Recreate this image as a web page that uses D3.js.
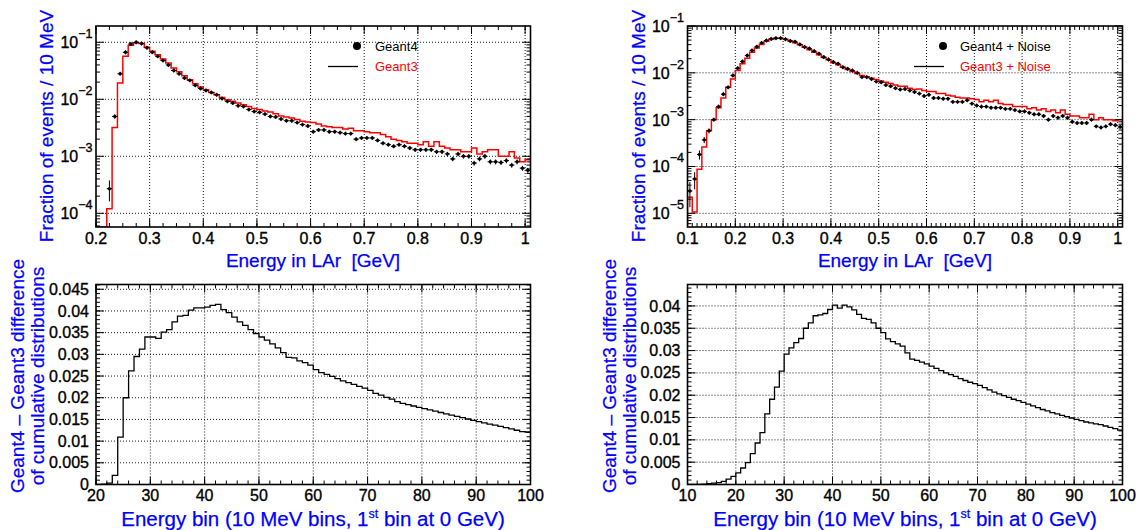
<!DOCTYPE html>
<html><head><meta charset="utf-8">
<script src="https://cdn.jsdelivr.net/npm/d3@7"></script>
<style>
html,body{margin:0;padding:0;background:#fff;}
svg{display:block;font-family:"Liberation Sans",Arial,Helvetica,sans-serif;}
</style></head><body>
<svg id="chart" width="1139" height="530"></svg>
<script>
// ---------------- DATA ----------------
// Top-left: energy in LAr, 10 MeV bins starting at 0.20 GeV
const tlBinStart = 0.20, tlBinWidth = 0.01;
const tlGeant3 = [0, 0, 1.2e-4, 3.2e-3, 0.0193, 0.0568, 0.0885, 0.098, 0.095, 0.0817,
  0.0695, 0.0607, 0.051, 0.0433, 0.0354, 0.0305, 0.026, 0.022, 0.0188, 0.0164,
  0.0147, 0.0132, 0.0120, 0.0108, 0.0098, 0.0092, 0.0086, 0.0080, 0.0075, 0.0069,
  0.0066, 0.0062, 0.0060, 0.0056, 0.0051, 0.0049, 0.0047, 0.0044, 0.0041, 0.0040,
  0.0039, 0.0037, 0.0034, 0.0033, 0.0032, 0.0032, 0.0030, 0.0031, 0.0028, 0.0028,
  0.0027, 0.0026, 0.0026, 0.0024, 0.0022, 0.0020, 0.0019, 0.0018, 0.0017, 0.0017,
  0.0016, 0.0018, 0.0015, 0.0018, 0.0015, 0.0014, 0.0013, 0.0013, 0.0012, 0.0012,
  0.0014, 0.0011, 0.0012, 0.0013, 0.0013, 0.0010, 0.0010, 0.0012, 0.00093, 0.00080,
  0.00087];
const tlGeant4 = [null, null, 2.7e-4, 0.0050, 0.028, 0.0667, 0.0935, 0.1, 0.095, 0.080,
  0.067, 0.057, 0.048, 0.040, 0.032, 0.028, 0.0236, 0.0215, 0.0176, 0.0155,
  0.0143, 0.0132, 0.0120, 0.0103, 0.0092, 0.0086, 0.0077, 0.0075, 0.0066, 0.0061,
  0.0059, 0.0055, 0.0050, 0.0049, 0.0045, 0.0042, 0.0042, 0.0039, 0.0036, 0.0034,
  0.0027, 0.0029, 0.0029, 0.0027, 0.0027, 0.0026, 0.0025, 0.0025, 0.0020, 0.0021,
  0.0021, 0.0021, 0.0019, 0.0017, 0.0016, 0.0015, 0.0016, 0.0015, 0.0014, 0.0013,
  0.0013, 0.0013, 0.0013, 0.0012, 0.0012, 0.0011, 0.0009, 0.0011, 0.0010, 0.0010,
  0.00076, 0.0009, 0.0010, 0.0008, 0.0008, 0.00078, 0.00084, 0.0007, 0.0008, 0.00062,
  0.00057];
const tlGeant4RelErr = [null, null, 0.4, 0.09, 0.04, 0.025, 0.02, 0.02, 0.02, 0.02,
  0.025, 0.025, 0.025, 0.025, 0.03, 0.03, 0.03, 0.03, 0.035, 0.035,
  0.035, 0.035, 0.04, 0.04, 0.04, 0.04, 0.045, 0.045, 0.045, 0.05,
  0.05, 0.05, 0.05, 0.055, 0.055, 0.055, 0.055, 0.06, 0.06, 0.06,
  0.065, 0.065, 0.065, 0.065, 0.065, 0.07, 0.07, 0.07, 0.07, 0.07,
  0.075, 0.075, 0.075, 0.08, 0.08, 0.08, 0.08, 0.08, 0.085, 0.085,
  0.085, 0.085, 0.085, 0.09, 0.09, 0.09, 0.09, 0.09, 0.09, 0.095,
  0.095, 0.095, 0.095, 0.1, 0.1, 0.1, 0.1, 0.1, 0.1, 0.1,
  0.1];

// Top-right: with noise, 10 MeV bins starting at 0.10 GeV
const trBinStart = 0.10, trBinWidth = 0.01;
const trGeant3 = [2.2e-5, 1.07e-5, 8.7e-5, 2.6e-4, 5.8e-4, 1.0e-3, 1.8e-3, 2.9e-3, 4.9e-3, 7.4e-3,
  0.0112, 0.0156, 0.0206, 0.0276, 0.0338, 0.0405, 0.047, 0.052, 0.055, 0.055,
  0.052, 0.048, 0.044, 0.040, 0.035, 0.031, 0.0276, 0.0243, 0.0213, 0.019,
  0.0164, 0.0148, 0.0132, 0.0118, 0.0107, 0.0097, 0.0088, 0.0082, 0.0077, 0.0072,
  0.0067, 0.0063, 0.0059, 0.0055, 0.0052, 0.0052, 0.0047, 0.0044, 0.0045, 0.0042,
  0.0040, 0.0040, 0.0036, 0.0036, 0.0033, 0.0032, 0.0030, 0.0029, 0.0029, 0.0028,
  0.0027, 0.0024, 0.0026, 0.0024, 0.0026, 0.0022, 0.0021, 0.0021, 0.0019, 0.0019,
  0.0019, 0.0017, 0.0018, 0.0016, 0.0017, 0.0015, 0.0016, 0.0014, 0.0016, 0.0013,
  0.0012, 0.0012, 0.0011, 0.0011, 0.0013, 0.0010, 0.0011, 0.0010, 0.0010, 0.00095,
  0.0010];
const trGeant4 = [3.0e-5, 5.4e-5, 1.8e-4, 3.7e-4, 5.8e-4, 1.0e-3, 1.9e-3, 3.5e-3, 4.9e-3, 8.8e-3,
  0.0126, 0.0175, 0.0235, 0.030, 0.036, 0.0435, 0.049, 0.053, 0.055, 0.055,
  0.052, 0.048, 0.046, 0.0405, 0.0355, 0.033, 0.029, 0.0256, 0.0217, 0.0193,
  0.017, 0.0156, 0.0132, 0.0122, 0.0112, 0.010, 0.0081, 0.0081, 0.0074, 0.0065,
  0.0063, 0.0055, 0.0052, 0.0047, 0.0044, 0.0045, 0.0042, 0.0039, 0.0036, 0.0032,
  0.0034, 0.0029, 0.0029, 0.0028, 0.0028, 0.0024, 0.0024, 0.0024, 0.0026, 0.0022,
  0.0020, 0.0019, 0.0019, 0.0018, 0.0018, 0.0018, 0.0017, 0.0017, 0.0016, 0.0015,
  0.0015, 0.0014, 0.0013, 0.0013, 0.0012, 0.0010, 0.0012, 0.0011, 0.0012, 0.0011,
  0.0009, 0.00085, 0.00085, 0.00085, 0.0010, 0.00072, 0.00068, 0.00072, 0.0008, 0.00076,
  0.0007];
const trGeant4RelErr = [0.55, 0.4, 0.22, 0.15, 0.12, 0.09, 0.07, 0.05, 0.04, 0.03,
  0.025, 0.025, 0.025, 0.025, 0.025, 0.025, 0.025, 0.025, 0.025, 0.025,
  0.02, 0.02, 0.02, 0.02, 0.02, 0.02, 0.02, 0.02, 0.02, 0.02,
  0.025, 0.025, 0.025, 0.025, 0.025, 0.025, 0.025, 0.025, 0.025, 0.025,
  0.03, 0.03, 0.03, 0.03, 0.03, 0.03, 0.03, 0.03, 0.03, 0.03,
  0.035, 0.035, 0.035, 0.035, 0.035, 0.035, 0.035, 0.035, 0.035, 0.035,
  0.04, 0.04, 0.04, 0.04, 0.04, 0.04, 0.04, 0.04, 0.04, 0.04,
  0.045, 0.045, 0.045, 0.045, 0.045, 0.045, 0.045, 0.045, 0.045, 0.045,
  0.05, 0.05, 0.05, 0.05, 0.05, 0.05, 0.05, 0.05, 0.05, 0.05,
  0.05];

// Bottom-left: difference of cumulative distributions, bins 20..99
const blBinStart = 20;
const blDiff = [0, 0.0001, 0.0003, 0.0021, 0.0109, 0.0200, 0.0262, 0.0295, 0.0312, 0.0340,
  0.0340, 0.0337, 0.0351, 0.0357, 0.0375, 0.0388, 0.0390, 0.0402, 0.0407, 0.0407,
  0.0409, 0.0413, 0.0415, 0.0403, 0.0396, 0.0386, 0.0375, 0.0367, 0.0357, 0.0348,
  0.0340, 0.0333, 0.0324, 0.0315, 0.0304, 0.0293, 0.0292, 0.0285, 0.0281, 0.0275,
  0.0265, 0.0258, 0.0254, 0.0249, 0.0244, 0.0239, 0.0235, 0.0231, 0.0226, 0.0222,
  0.0217, 0.0210, 0.0206, 0.0201, 0.0197, 0.0191, 0.0187, 0.0184, 0.0181, 0.0178,
  0.0175, 0.0172, 0.0169, 0.0166, 0.0163, 0.0160, 0.0157, 0.0154, 0.0151, 0.0148,
  0.0145, 0.0142, 0.0139, 0.0137, 0.0134, 0.0131, 0.0128, 0.0125, 0.0122, 0.0121];

// Bottom-right: with noise, bins 10..99
const brBinStart = 10;
const brDiff = [0, 0, 0.00005, 0.0001, 0.0002, 0.0003, 0.0004, 0.0007, 0.0012, 0.0018,
  0.0026, 0.0037, 0.0049, 0.0069, 0.0093, 0.0116, 0.0158, 0.0191, 0.0218, 0.0254,
  0.0292, 0.0306, 0.0318, 0.0327, 0.0350, 0.0362, 0.0378, 0.0380, 0.0383, 0.0392,
  0.0402, 0.0395, 0.0402, 0.0398, 0.0391, 0.0381, 0.0372, 0.0370, 0.0362, 0.0350,
  0.0340, 0.0326, 0.0320, 0.0315, 0.0310, 0.0295, 0.0281, 0.0278, 0.0274, 0.0270,
  0.0265, 0.0260, 0.0255, 0.0250, 0.0246, 0.0242, 0.0237, 0.0233, 0.0229, 0.0226,
  0.0222, 0.0217, 0.0212, 0.0207, 0.0203, 0.0199, 0.0195, 0.0191, 0.0188, 0.0184,
  0.0180, 0.0176, 0.0172, 0.0168, 0.0165, 0.0161, 0.0158, 0.0155, 0.0152, 0.0149,
  0.0146, 0.0143, 0.0140, 0.0138, 0.0136, 0.0134, 0.0131, 0.0128, 0.0125, 0.0122];

// Tick values
const tlXTicks = [0.2, 0.3, 0.4, 0.5, 0.6, 0.7, 0.8, 0.9, 1.0];
const trXTicks = [0.1, 0.2, 0.3, 0.4, 0.5, 0.6, 0.7, 0.8, 0.9, 1.0];
const tlYTicks = [1e-4, 1e-3, 1e-2, 1e-1];
const trYTicks = [1e-5, 1e-4, 1e-3, 1e-2, 1e-1];
const blXTicks = [20, 30, 40, 50, 60, 70, 80, 90, 100];
const brXTicks = [10, 20, 30, 40, 50, 60, 70, 80, 90, 100];
const blYTicks = [0, 0.005, 0.01, 0.015, 0.02, 0.025, 0.03, 0.035, 0.04, 0.045];
const brYTicks = [0, 0.005, 0.01, 0.015, 0.02, 0.025, 0.03, 0.035, 0.04];

const legendTL = ["Geant4", "Geant3"];
const legendTR = ["Geant4 + Noise", "Geant3 + Noise"];

// ---------------- DRAWING ----------------
const svg = d3.select('#chart');
const BLUE = '#0000ff', RED = '#ff0000';
const FONT_TICK = 16, FONT_TITLE = 19;

function makePanel(p) {
  const x = d3.scaleLinear().domain(p.xDomain).range([p.left, p.right]);
  const y = p.log ? d3.scaleLog().domain(p.yDomain).range([p.bottom, p.top])
                  : d3.scaleLinear().domain(p.yDomain).range([p.bottom, p.top]);
  const g = svg.append('g');
  const clipId = 'clip-' + p.id;
  svg.append('clipPath').attr('id', clipId).append('rect')
    .attr('x', p.left).attr('y', p.top).attr('width', p.right - p.left).attr('height', p.bottom - p.top);

  // grid
  const grid = g.append('g').attr('stroke', '#000').attr('stroke-width', 0.9).attr('stroke-dasharray', '1,2');
  p.xMajor.forEach(v => {
    const px = x(v);
    if (px > p.left + 1.5 && px < p.right - 1.5)
      grid.append('line').attr('x1', px).attr('x2', px).attr('y1', p.top).attr('y2', p.bottom);
  });
  p.yMajor.forEach(v => {
    const py = y(v);
    if (py > p.top + 1.5 && py < p.bottom - 1.5)
      grid.append('line').attr('x1', p.left).attr('x2', p.right).attr('y1', py).attr('y2', py);
  });

  const dataG = g.append('g').attr('clip-path', `url(#${clipId})`);

  // ticks
  const tk = g.append('g').attr('stroke', '#000').attr('stroke-width', 1);
  const xTick = (v, len) => {
    const px = x(v);
    tk.append('line').attr('x1', px).attr('x2', px).attr('y1', p.bottom).attr('y2', p.bottom - len);
    tk.append('line').attr('x1', px).attr('x2', px).attr('y1', p.top).attr('y2', p.top + len);
  };
  const yTick = (v, len) => {
    const py = y(v);
    tk.append('line').attr('x1', p.left).attr('x2', p.left + len).attr('y1', py).attr('y2', py);
    tk.append('line').attr('x1', p.right).attr('x2', p.right - len).attr('y1', py).attr('y2', py);
  };
  p.xMinor.forEach(v => { if (v >= p.xDomain[0] && v <= p.xDomain[1]) xTick(v, 4); });
  p.xMajor.forEach(v => xTick(v, 8));
  p.yMinor.forEach(v => { if (v >= p.yDomain[0] && v <= p.yDomain[1]) yTick(v, 4); });
  p.yMajor.forEach(v => yTick(v, 8));

  // frame (drawn later, on top)
  const frame = () => g.append('rect').attr('x', p.left).attr('y', p.top)
    .attr('width', p.right - p.left).attr('height', p.bottom - p.top)
    .attr('fill', 'none').attr('stroke', '#000').attr('stroke-width', 1.6);

  // tick labels
  const lab = g.append('g').attr('font-size', FONT_TICK).attr('fill', '#000')
    .attr('stroke', '#000').attr('stroke-width', 0.35);
  p.xMajor.forEach(v => {
    lab.append('text').attr('x', x(v)).attr('y', p.bottom + 16.5).attr('text-anchor', 'middle').text(p.xFmt(v));
  });
  p.yMajor.forEach(v => {
    if (p.log) {
      const t = lab.append('text').attr('x', p.left - 3.5).attr('y', y(v) + 6).attr('text-anchor', 'end');
      t.append('tspan').text('10');
      t.append('tspan').attr('font-size', 12.5).attr('dy', -10).text('\u2212' + Math.round(-Math.log10(v)));
    } else {
      lab.append('text').attr('x', p.left - 7).attr('y', y(v)).attr('dy', '0.35em')
        .attr('text-anchor', 'end').text(p.yFmt(v));
    }
  });

  return { x, y, g, dataG, frame };
}

function histPath(P, start, width, values, floor) {
  const pts = [[P.x(start), P.y(floor)]];
  values.forEach((v, i) => {
    const lo = start + i * width, hi = start + (i + 1) * width;
    const yy = P.y(Math.max(v, floor));
    pts.push([P.x(lo), yy], [P.x(hi), yy]);
  });
  return d3.line()(pts);
}

function drawPoints(P, start, width, values, relErr, floor) {
  const gp = P.dataG.append('g').attr('stroke', '#000').attr('stroke-width', 1);
  values.forEach((v, i) => {
    if (v == null) return;
    const lo = start + i * width, hi = lo + width, c = lo + width / 2;
    const cy = P.y(v);
    gp.append('line').attr('x1', P.x(lo)).attr('x2', P.x(hi)).attr('y1', cy).attr('y2', cy);
    const e = relErr[i] || 0;
    const y1 = P.y(Math.max(v * (1 - e), floor)), y2 = P.y(v * (1 + e));
    gp.append('line').attr('x1', P.x(c)).attr('x2', P.x(c)).attr('y1', Math.max(y1, cy + 2)).attr('y2', Math.min(y2, cy - 2));
    gp.append('circle').attr('cx', P.x(c)).attr('cy', cy).attr('r', 1.7).attr('fill', '#000').attr('stroke', 'none');
  });
}

const fmtE = v => (Math.abs(v - 1) < 1e-9 ? '1' : v.toFixed(1));
const fmtLin = d3.format('.3~f');
const logMinor = (lo, hi) => {
  const out = [];
  for (let k = lo; k <= hi; k++) for (let m = 2; m <= 9; m++) out.push(m * Math.pow(10, k));
  return out;
};

// ---- Top-left ----
const TL = makePanel({
  id: 'tl', left: 96, right: 530.5, top: 26, bottom: 227,
  xDomain: [0.2, 1.01], yDomain: [5.75e-5, 0.193], log: true,
  xMajor: tlXTicks, xMinor: d3.range(0.2, 1.011, 0.025), yMajor: tlYTicks, yMinor: logMinor(-5, -1),
  xFmt: fmtE
});
TL.dataG.append('path').attr('d', histPath(TL, tlBinStart, tlBinWidth, tlGeant3, 5.75e-5))
  .attr('fill', 'none').attr('stroke', RED).attr('stroke-width', 1.5);
drawPoints(TL, tlBinStart, tlBinWidth, tlGeant4, tlGeant4RelErr, 5.75e-5);
TL.frame();

// ---- Top-right ----
const TR = makePanel({
  id: 'tr', left: 687.5, right: 1122.5, top: 26, bottom: 227,
  xDomain: [0.1, 1.01], yDomain: [5.1e-6, 0.1], log: true,
  xMajor: trXTicks, xMinor: d3.range(0.1, 1.011, 0.01), yMajor: trYTicks, yMinor: logMinor(-6, -2),
  xFmt: fmtE
});
TR.dataG.append('path').attr('d', histPath(TR, trBinStart, trBinWidth, trGeant3, 5.1e-6))
  .attr('fill', 'none').attr('stroke', RED).attr('stroke-width', 1.5);
drawPoints(TR, trBinStart, trBinWidth, trGeant4, trGeant4RelErr, 5.1e-6);
TR.frame();

// ---- Bottom-left ----
const BL = makePanel({
  id: 'bl', left: 96, right: 530.5, top: 284.5, bottom: 484.5,
  xDomain: [20, 100], yDomain: [0, 0.0461], log: false,
  xMajor: blXTicks, xMinor: d3.range(20, 100.01, 2), yMajor: blYTicks, yMinor: d3.range(0, 0.0461, 0.001),
  xFmt: v => String(v), yFmt: fmtLin
});
BL.dataG.append('path').attr('d', histPath(BL, blBinStart, 1, blDiff, 0))
  .attr('fill', 'none').attr('stroke', '#000').attr('stroke-width', 1.3);
BL.frame();

// ---- Bottom-right ----
const BR = makePanel({
  id: 'br', left: 687.5, right: 1122.5, top: 284.5, bottom: 484.5,
  xDomain: [10, 100], yDomain: [0, 0.0448], log: false,
  xMajor: brXTicks, xMinor: d3.range(10, 100.01, 2), yMajor: brYTicks, yMinor: d3.range(0, 0.0448, 0.001),
  xFmt: v => String(v), yFmt: fmtLin
});
BR.dataG.append('path').attr('d', histPath(BR, brBinStart, 1, brDiff, 0))
  .attr('fill', 'none').attr('stroke', '#000').attr('stroke-width', 1.3);
BR.frame();

// ---- Axis titles ----
const titles = svg.append('g').attr('fill', BLUE).attr('font-size', FONT_TITLE)
  .attr('stroke', BLUE).attr('stroke-width', 0.25);
function yTitle(x, yc, txt) {
  titles.append('text').attr('transform', `translate(${x},${yc}) rotate(-90)`)
    .attr('text-anchor', 'middle').attr('dy', '0.35em').text(txt);
}
function xTitleEnergy(xc, y) {
  titles.append('text').attr('x', xc).attr('y', y).attr('text-anchor', 'middle')
    .attr('xml:space', 'preserve').text('Energy in LAr  [GeV]');
}
function xTitleBin(xc, y) {
  const t = titles.append('text').attr('x', xc).attr('y', y).attr('text-anchor', 'middle').attr('font-size', 20.5);
  t.append('tspan').text('Energy bin (10 MeV bins, 1');
  t.append('tspan').attr('font-size', 12.5).attr('dy', -8).text('st');
  t.append('tspan').attr('dy', 8).text('\u00a0bin at 0 GeV)');
}
yTitle(46, 126, 'Fraction of events / 10 MeV');
yTitle(638, 126, 'Fraction of events / 10 MeV');
xTitleEnergy(313, 267);
xTitleEnergy(905, 267);
yTitle(17, 376, 'Geant4 \u2013 Geant3 difference');
yTitle(37, 376, 'of cumulative distributions');
yTitle(609, 376, 'Geant4 \u2013 Geant3 difference');
yTitle(629, 376, 'of cumulative distributions');
xTitleBin(313, 526);
xTitleBin(905, 526);

// ---- Legends ----
function legend(dotX, textX, labels) {
  const lg = svg.append('g').attr('font-size', 13);
  lg.append('circle').attr('cx', dotX).attr('cy', 46).attr('r', 4).attr('fill', '#000');
  lg.append('text').attr('x', textX).attr('y', 50.5).attr('fill', '#000').text(labels[0]);
  lg.append('line').attr('x1', dotX - 29).attr('x2', dotX + 1).attr('y1', 66.5).attr('y2', 66.5)
    .attr('stroke', '#000').attr('stroke-width', 1.3);
  lg.append('text').attr('x', textX).attr('y', 71).attr('fill', RED).text(labels[1]);
}
legend(357, 375, legendTL);
legend(943, 960, legendTR);
</script>
</body></html>
